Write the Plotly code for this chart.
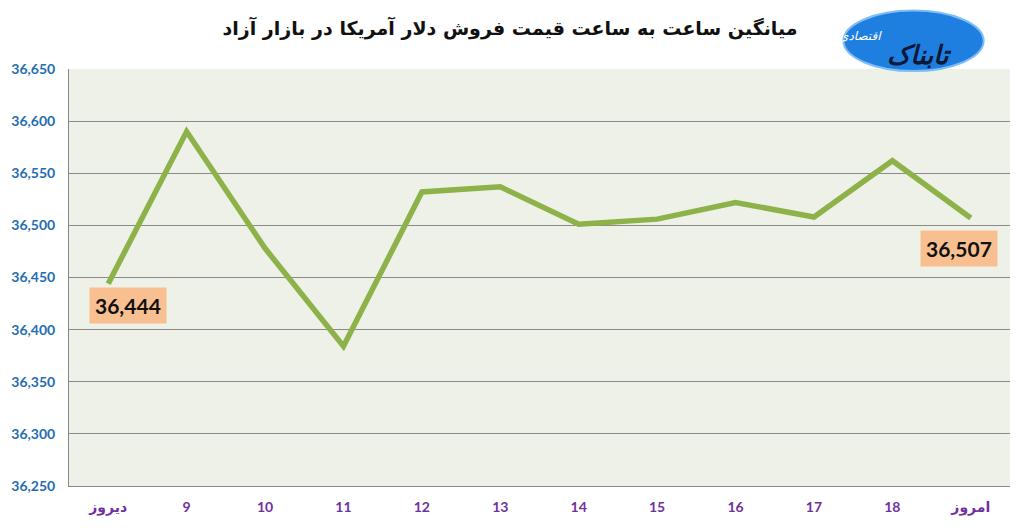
import plotly.graph_objects as go

hours = ["دیروز", "9", "10", "11", "12", "13", "14", "15", "16", "17", "18", "امروز"]
prices = [36444, 36590, 36478, 36384, 36532, 36537, 36501, 36506, 36522, 36508, 36562, 36507]
y_ticks = list(range(36250, 36651, 50))

title = "میانگین ساعت به ساعت قیمت فروش دلار آمریکا در بازار آزاد"

fig = go.Figure()
fig.add_trace(go.Scatter(
    x=hours, y=prices, mode="lines",
    line=dict(color="#8db24a", width=5.5),
    hoverinfo="x+y",
))

# first and last value labels
label_font = dict(family="Lato, DejaVu Sans", size=21, color="#111111")
fig.add_annotation(x=hours[0], y=prices[0], text=f"<b>{prices[0]:,}</b>",
                   showarrow=False, xshift=20, yshift=-22,
                   bgcolor="#f8c090", borderpad=5, font=label_font)
fig.add_annotation(x=hours[-1], y=prices[-1], text=f"<b>{prices[-1]:,}</b>",
                   showarrow=False, xshift=-12, yshift=-30,
                   bgcolor="#f8c090", borderpad=5, font=label_font)

# logo (rough stand-in for the image)
fig.add_shape(type="circle", xref="paper", yref="paper",
              x0=0.823, x1=0.972, y0=0.995, y1=1.14,
              fillcolor="#1f7fe0", line=dict(color="#7fbdf7", width=2), layer="above")
fig.add_annotation(xref="paper", yref="paper", x=0.94, y=1.075,
                   text="<b><i>تابناک</i></b>", showarrow=False,
                   font=dict(family="DejaVu Sans", size=26, color="#0b1838"))
fig.add_annotation(xref="paper", yref="paper", x=0.866, y=1.1,
                   text="<i>اقتصادی</i>", showarrow=False,
                   font=dict(family="DejaVu Sans", size=12, color="#ffffff"))

# page body has an 8px margin, so the figure is a bit smaller than the window
fig.update_layout(
    width=1012, height=520,
    margin=dict(l=61, r=10, t=61, b=42),
    paper_bgcolor="#ffffff",
    plot_bgcolor="#eef1e7",
    showlegend=False,
    title=dict(text=f"<b>{title}</b>", x=502 / 1012, xref="container",
               y=1 - 20 / 520, yref="container", xanchor="center", yanchor="middle",
               font=dict(family="DejaVu Sans", size=19, color="#111111")),
    font=dict(family="Lato, DejaVu Sans"),
)
fig.update_xaxes(
    type="category", range=[-0.5, 11.5], automargin=False,
    showgrid=False, showline=True, linecolor="#888888", linewidth=1,
    ticks="", ticklabelstandoff=8,
    tickfont=dict(family="Lato, DejaVu Sans", size=14, color="#7030a0", weight="bold"),
)
fig.update_yaxes(
    range=[36250, 36650], tickvals=y_ticks, automargin=False,
    ticktext=[f"{v:,}" for v in y_ticks],
    showgrid=True, gridcolor="#8a8a8a", gridwidth=1,
    showline=True, linecolor="#888888", linewidth=1, zeroline=False,
    ticks="", ticklabelstandoff=10,
    tickfont=dict(family="Lato, DejaVu Sans", size=14, color="#1f6db3", weight="bold"),
)

fig.write_html("out.html")
